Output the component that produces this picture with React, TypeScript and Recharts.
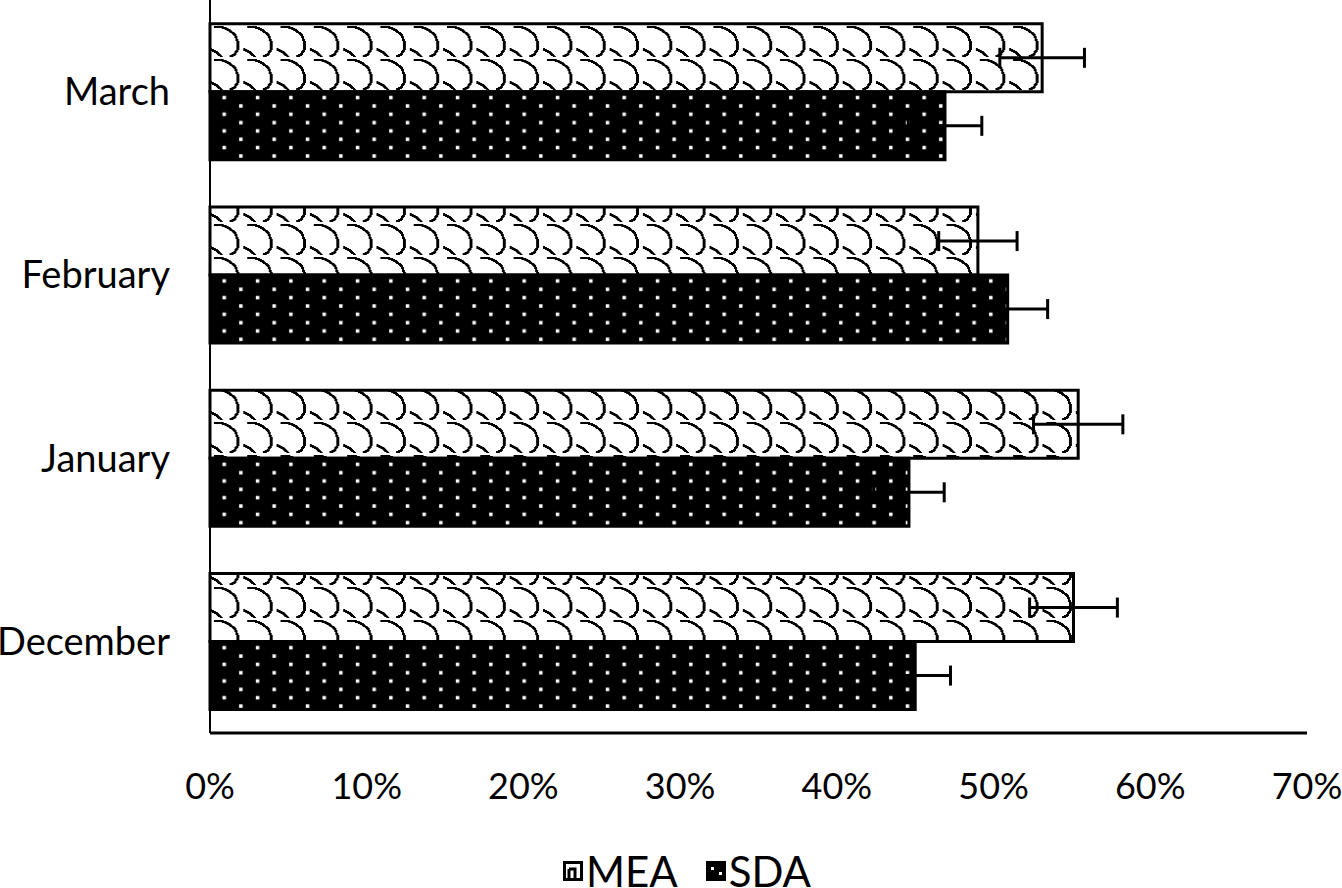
import React from 'react';
import { BarChart, Bar, XAxis, YAxis, ErrorBar, Legend } from 'recharts';

const categories = ['March', 'February', 'January', 'December'];
const meaValues = [53.1, 49.0, 55.4, 55.1];
const meaErrors = [2.7, 2.5, 2.85, 2.8];
const sdaValues = [46.9, 50.9, 44.6, 45.0];
const sdaErrors = [2.35, 2.55, 2.25, 2.25];
const xTicks = [0, 10, 20, 30, 40, 50, 60, 70];
const seriesNames = ['MEA', 'SDA'];

const data = categories.map((c, i) => ({
  category: c,
  MEA: meaValues[i],
  meaErr: meaErrors[i],
  SDA: sdaValues[i],
  sdaErr: sdaErrors[i],
}));

const FONT = 'Lato, "Open Sans", sans-serif';

const Patterns = () => (
  <defs>
    <pattern id="meaPat" patternUnits="userSpaceOnUse" width="33.3" height="33" x="210" y="24">
      <rect x="0" y="0" width="33.3" height="33" fill="#fff" />
      <path
        d="M4,3 L12,3 L19,6 L25,11 L28,18 L28,25 L25,30 L20,33 M0,25 L6,28 L12,33"
        fill="none"
        stroke="#000"
        strokeWidth="2.6"
        shapeRendering="crispEdges"
      />
    </pattern>
    <pattern id="sdaPat" patternUnits="userSpaceOnUse" width="33.33" height="16.67" x="0" y="0">
      <rect x="0" y="0" width="33.33" height="16.67" fill="#000" />
      <rect x="22.5" y="12.5" width="3.5" height="3.5" fill="#fff" />
      <rect x="5.8" y="4.2" width="3.5" height="3.5" fill="#fff" />
    </pattern>
  </defs>
);

const renderLegend = () => (
  <div style={{ height: 60, position: 'relative', fontFamily: FONT, width: 1342 }}>
    <div style={{ position: 'absolute', left: 563, top: 28, display: 'flex', alignItems: 'center' }}>
      {seriesNames.map((name, i) => (
        <div key={name} style={{ display: 'flex', alignItems: 'center', marginRight: i === 0 ? 28 : 0 }}>
          <svg width={20} height={20} style={{ display: 'block' }}>
            {i === 0 ? (
              <g>
                <rect x={1.5} y={1.5} width={17} height={17} fill="#fff" stroke="#000" strokeWidth={3} />
                <path d="M6,8 H12 V17 M6,8 V17" stroke="#000" strokeWidth={3} fill="none" />
              </g>
            ) : (
              <g>
                <rect x={0} y={0} width={20} height={20} fill="#000" />
                <rect x={5} y={6} width={3} height={3} fill="#fff" />
                <rect x={13} y={11} width={3} height={3} fill="#fff" />
              </g>
            )}
          </svg>
          <span style={{ fontSize: 42, lineHeight: '30px', color: '#000', marginLeft: 3 }}>{name}</span>
        </div>
      ))}
    </div>
  </div>
);

export default function App() {
  return (
    <div style={{ position: 'absolute', left: 0, top: 0, width: 1342, height: 888, background: '#fff' }}>
      <BarChart
        width={1342}
        height={888}
        data={data}
        layout="vertical"
        margin={{ top: 0, right: 35, left: 0, bottom: 0 }}
        barCategoryGap="13%"
        barGap={0}
      >
        <Patterns />
        <XAxis
          type="number"
          domain={[0, 70]}
          ticks={xTicks}
          tickFormatter={(v: number) => `${v}%`}
          axisLine={{ stroke: '#000', strokeWidth: 3 }}
          tickLine={false}
          tickSize={0}
          tickMargin={40}
          height={95}
          tick={{ fill: '#000', fontSize: 36, fontFamily: FONT }}
          interval={0}
        />
        <YAxis
          type="category"
          dataKey="category"
          width={210}
          axisLine={{ stroke: '#000', strokeWidth: 2 }}
          tickLine={false}
          tickSize={0}
          tickMargin={40}
          tick={{ fill: '#000', fontSize: 38, fontFamily: FONT }}
        />
        <Legend verticalAlign="bottom" align="left" content={renderLegend} wrapperStyle={{ left: 0, width: 1342 }} />
        <Bar dataKey="MEA" fill="url(#meaPat)" stroke="#000" strokeWidth={3} isAnimationActive={false}>
          <ErrorBar dataKey="meaErr" direction="x" width={10} stroke="#000" strokeWidth={3} />
        </Bar>
        <Bar dataKey="SDA" fill="url(#sdaPat)" stroke="#000" strokeWidth={3} isAnimationActive={false}>
          <ErrorBar dataKey="sdaErr" direction="x" width={10} stroke="#000" strokeWidth={3} />
        </Bar>
      </BarChart>
    </div>
  );
}
